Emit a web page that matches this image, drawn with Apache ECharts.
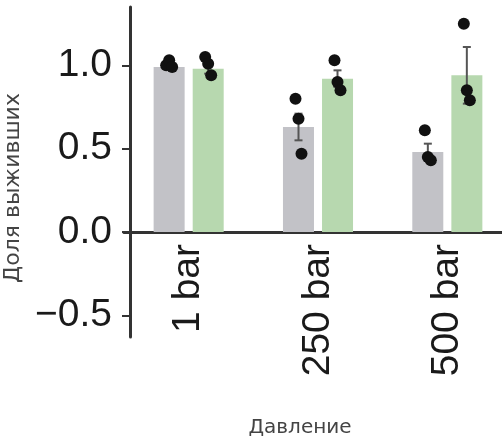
<!DOCTYPE html>
<html>
<head>
<meta charset="utf-8">
<script src="https://cdn.jsdelivr.net/npm/echarts@6/dist/echarts.min.js"></script>
<style>
html,body{margin:0;padding:0;background:#fff;}
#chart{width:502px;height:442px;}
</style>
</head>
<body>
<div id="chart"></div>
<script>
// ---- data ----
const categories = ['1 bar', '250 bar', '500 bar'];
const grayMeans = [0.99, 0.63, 0.48];
const greenMeans = [0.98, 0.92, 0.94];
const grayErr = [0.01, 0.08, 0.05];
const greenErr = [0.03, 0.05, 0.17];
const grayPoints = [[1.00, 1.03, 0.99], [0.80, 0.68, 0.47], [0.61, 0.45, 0.43]];
const greenPoints = [[1.05, 1.01, 0.94], [1.03, 0.90, 0.85], [1.25, 0.85, 0.79]];
const yTicks = [-0.5, 0, 0.5, 1.0];
const yMin = -0.63;
const yMax = 1.35;
const xTitle = 'Давление';
const yTitle = 'Доля выживших';

// ---- style constants ----
const BAR_W = 31;
const HALF_OFF = 19.5; // half of bar width + gap
const JIT = [-3, 0, 3];
const FONT = 'Liberation Sans, Arial, sans-serif';

const errData = [];
const ptData = [];
categories.forEach((c, i) => {
  errData.push([i, grayMeans[i] - grayErr[i], grayMeans[i] + grayErr[i], 0]);
  errData.push([i, greenMeans[i] - greenErr[i], greenMeans[i] + greenErr[i], 1]);
  grayPoints[i].forEach((v, r) => ptData.push([i, v, 0, r]));
  greenPoints[i].forEach((v, r) => ptData.push([i, v, 1, r]));
});

const chart = echarts.init(document.getElementById('chart'), null, {renderer: 'canvas'});
chart.setOption({
  animation: false,
  backgroundColor: '#fff',
  grid: {left: 124, top: 7, width: 388, height: 330, containLabel: false, outerBoundsMode: 'none'},
  xAxis: {
    type: 'category',
    data: categories,
    axisLine: {onZero: true, lineStyle: {color: '#333', width: 3}},
    axisTick: {show: false},
    axisLabel: {rotate: 90, fontSize: 39, margin: -93, color: '#1a1a1a', fontFamily: FONT},
    name: xTitle,
    nameLocation: 'middle',
    nameGap: 81,
    nameTextStyle: {fontSize: 20, color: '#444', fontFamily: 'DejaVu Sans', padding: [0, 36, 0, 0]}
  },
  yAxis: {
    type: 'value',
    min: yMin,
    max: yMax,
    offset: -6,
    splitLine: {show: false},
    axisLine: {show: true, onZero: false, lineStyle: {color: '#333', width: 3}},
    axisTick: {show: true, length: 8, lineStyle: {color: '#333', width: 2}, customValues: yTicks},
    axisLabel: {
      customValues: yTicks,
      fontSize: 39, margin: 18, color: '#1a1a1a', fontFamily: FONT,
      formatter: v => v.toFixed(1).replace('-', '\u2212')
    },
    name: yTitle,
    nameLocation: 'middle',
    nameGap: 89,
    nameTextStyle: {fontSize: 22, color: '#444', fontFamily: 'DejaVu Sans', padding: [0, 32, 0, 0]}
  },
  series: [
    {type: 'bar', data: grayMeans, barWidth: BAR_W, barGap: '26%', itemStyle: {color: '#c2c2c7'}, z: 2},
    {type: 'bar', data: greenMeans, barWidth: BAR_W, itemStyle: {color: '#b7d8af'}, z: 2},
    {
      type: 'custom', data: errData, z: 3,
      encode: {x: 0, y: [1, 2]},
      renderItem: function (params, api) {
        const ci = api.value(0), lo = api.value(1), hi = api.value(2), g = api.value(3);
        const pLo = api.coord([ci, lo]), pHi = api.coord([ci, hi]);
        const x = pLo[0] + (g === 0 ? -HALF_OFF : HALF_OFF);
        const st = {stroke: '#555', lineWidth: 2};
        return {type: 'group', children: [
          {type: 'line', shape: {x1: x, y1: pLo[1], x2: x, y2: pHi[1]}, style: st},
          {type: 'line', shape: {x1: x - 4, y1: pHi[1], x2: x + 4, y2: pHi[1]}, style: st},
          {type: 'line', shape: {x1: x - 4, y1: pLo[1], x2: x + 4, y2: pLo[1]}, style: st}
        ]};
      }
    },
    {
      type: 'custom', data: ptData, z: 4,
      encode: {x: 0, y: 1},
      renderItem: function (params, api) {
        const ci = api.value(0), v = api.value(1), g = api.value(2), r = api.value(3);
        const p = api.coord([ci, v]);
        const x = p[0] + (g === 0 ? -HALF_OFF : HALF_OFF) + JIT[r];
        return {type: 'circle', shape: {cx: x, cy: p[1], r: 6}, style: {fill: '#111'}};
      }
    }
  ]
});
</script>
</body>
</html>
